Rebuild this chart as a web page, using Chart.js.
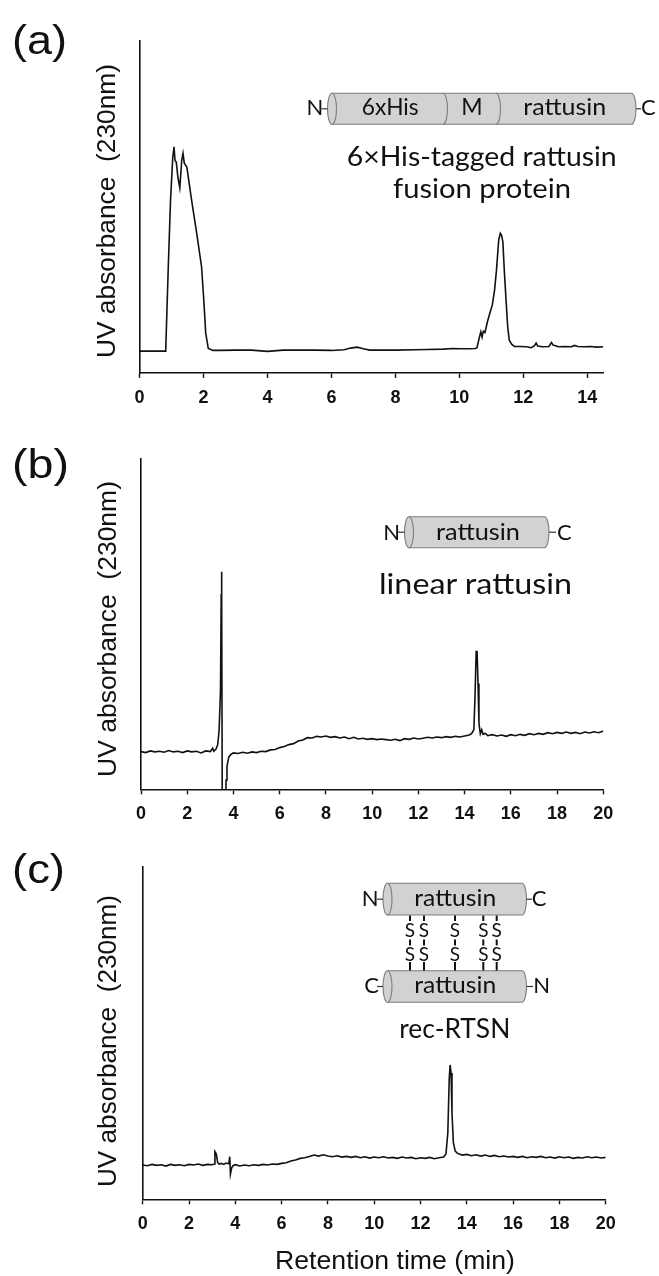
<!DOCTYPE html>
<html><head><meta charset="utf-8">
<script src="https://cdn.jsdelivr.net/npm/chart.js@4.4.1/dist/chart.umd.min.js"></script>
<style>
html,body{margin:0;padding:0;background:#fff;}
#wrap{position:relative;width:659px;height:1276px;overflow:hidden;background:#fff;}
canvas{position:absolute;left:0;}
#ov{position:absolute;left:0;top:0;pointer-events:none;}
.ax{font-family:"Liberation Sans",Arial,sans-serif;fill:#111;white-space:pre;}
.dg{font-family:Lato,"Open Sans",sans-serif;fill:#111;}
</style></head><body>
<div id="wrap">
<canvas id="ca" width="659" height="420" style="top:0px"></canvas>
<canvas id="cb" width="659" height="400" style="top:420px"></canvas>
<canvas id="cc" width="659" height="456" style="top:820px"></canvas>
<svg id="ov" width="659" height="1276" xmlns="http://www.w3.org/2000/svg">
<g id="shapes"></g>
<!-- panel letters -->
<text class="ax" x="12" y="54" font-size="40" textLength="55" lengthAdjust="spacingAndGlyphs">(a)</text>
<text class="ax" x="12" y="478" font-size="41" textLength="57" lengthAdjust="spacingAndGlyphs">(b)</text>
<text class="ax" x="12" y="883" font-size="40" textLength="53" lengthAdjust="spacingAndGlyphs">(c)</text>
<!-- y titles -->
<text class="ax" font-size="26" text-anchor="middle" dominant-baseline="central" transform="translate(106,211) rotate(-90)" textLength="294" lengthAdjust="spacingAndGlyphs">UV absorbance  (230nm)</text>
<text class="ax" font-size="26" text-anchor="middle" dominant-baseline="central" transform="translate(106.5,629) rotate(-90)" textLength="296" lengthAdjust="spacingAndGlyphs">UV absorbance  (230nm)</text>
<text class="ax" font-size="26" text-anchor="middle" dominant-baseline="central" transform="translate(106.5,1041) rotate(-90)" textLength="292" lengthAdjust="spacingAndGlyphs">UV absorbance  (230nm)</text>
<!-- x title -->
<text class="ax" font-size="26" x="275" y="1269" textLength="240" lengthAdjust="spacingAndGlyphs">Retention time (min)</text>
<!-- diagram (a) -->
<text class="dg" font-size="22" x="306.5" y="115">N</text>
<text class="dg" font-size="23" x="361.7" y="115" textLength="57" lengthAdjust="spacingAndGlyphs">6xHis</text>
<text class="dg" font-size="23" x="472" y="115" text-anchor="middle">M</text>
<text class="dg" font-size="23" x="523.3" y="115" textLength="83" lengthAdjust="spacingAndGlyphs">rattusin</text>
<text class="dg" font-size="22" x="641" y="115">C</text>
<text class="dg" font-size="26" x="346.7" y="165.5" textLength="270" lengthAdjust="spacingAndGlyphs">6×His-tagged rattusin</text>
<text class="dg" font-size="26" x="393" y="197.5" textLength="178" lengthAdjust="spacingAndGlyphs">fusion protein</text>
<!-- diagram (b) -->
<text class="dg" font-size="22" x="383.3" y="540">N</text>
<text class="dg" font-size="23" x="436" y="539.5" textLength="84" lengthAdjust="spacingAndGlyphs">rattusin</text>
<text class="dg" font-size="22" x="557" y="540">C</text>
<text class="dg" font-size="29" x="379" y="593.5" textLength="193" lengthAdjust="spacingAndGlyphs">linear rattusin</text>
<!-- diagram (c) -->
<text class="dg" font-size="22" x="361.7" y="906">N</text>
<text class="dg" font-size="23" x="414.3" y="906" textLength="82" lengthAdjust="spacingAndGlyphs">rattusin</text>
<text class="dg" font-size="22" x="531.7" y="906">C</text>
<text class="dg" font-size="22" x="364.3" y="992.7">C</text>
<text class="dg" font-size="23" x="414.3" y="992.7" textLength="82" lengthAdjust="spacingAndGlyphs">rattusin</text>
<text class="dg" font-size="22" x="533.3" y="992.7">N</text>
<g id="sulfur"></g>
<text class="dg" font-size="26" x="399.3" y="1038.3" textLength="111" lengthAdjust="spacingAndGlyphs">rec-RTSN</text>
</svg>
</div>
<script>
// ---------------- data ----------------
const timeA = [0,0.5,0.8,0.82,0.9,0.97,1.04,1.08,1.11,1.15,1.2,1.26,1.32,1.36,1.4,1.48,1.63,1.79,1.94,2.01,2.07,2.15,2.3,2.5,3,3.5,4,4.5,5,5.5,6,6.4,6.6,6.8,7.0,7.2,8,8.6,9,9.5,9.8,10,10.3,10.5,10.55,10.62,10.67,10.71,10.75,10.8,10.88,10.95,11.03,11.1,11.16,11.23,11.28,11.32,11.36,11.41,11.46,11.51,11.56,11.64,11.72,11.9,12.1,12.25,12.35,12.4,12.45,12.6,12.8,12.88,12.93,13.1,13.3,13.5,13.6,13.7,13.9,14.1,14.3,14.5];
const absA  = [6.6,6.6,6.6,7,32,52,65,68.1,64,63.5,59,55.8,64,66.2,63.2,62,52,42,32,22,12,7.4,6.8,6.8,6.9,6.9,6.5,6.9,6.9,6.9,6.8,7.0,7.5,7.8,7.3,6.9,6.9,7.0,7.1,7.2,7.4,7.3,7.3,7.4,7.6,10.5,12.4,10.8,12.6,12.2,15.5,17.9,20.5,24.9,31,40,42.1,41.5,39.5,30,21.9,14,9.9,8.6,8.0,8.0,7.9,7.6,8.2,9.0,8.1,7.9,8.0,9.2,8.4,7.9,8.0,7.9,8.3,8.0,7.9,8.0,7.8,7.9];

const timeB = [0,0.2,0.4,0.6,0.8,1.0,1.2,1.4,1.6,1.8,2.0,2.2,2.4,2.6,2.8,3.0,3.1,3.15,3.25,3.32,3.38,3.44,3.47,3.48,3.5,3.52,3.64,3.68,3.72,3.8,3.9,4.0,4.2,4.4,4.6,4.8,5.0,5.2,5.4,5.6,5.8,6.0,6.2,6.4,6.6,6.8,7.0,7.2,7.4,7.6,7.8,8.0,8.2,8.4,8.6,8.8,9.0,9.2,9.4,9.6,9.8,10.0,10.2,10.4,10.6,10.8,11.0,11.2,11.4,11.6,11.8,12.0,12.2,12.4,12.6,12.8,13.0,13.2,13.4,13.6,13.8,14.0,14.2,14.3,14.4,14.45,14.5,14.54,14.58,14.62,14.68,14.74,14.8,14.9,15.0,15.2,15.4,15.6,15.8,16.0,16.2,16.4,16.6,16.8,17.0,17.2,17.4,17.6,17.8,18.0,18.2,18.4,18.6,18.8,19.0,19.2,19.4,19.6,19.8,20.0];
const absB  = [11.4,11.1,11.6,11.3,11.5,11.2,11.7,11.3,11.5,11.1,11.6,11.3,11.5,11.0,11.6,11.4,12.4,11.5,12.2,13.5,18,30,59,65.7,58,-15,-15,2.8,7,9.8,10.6,11.0,10.8,11.2,10.9,11.3,11.1,11.5,11.4,11.9,12.0,12.6,12.9,13.5,13.8,14.6,14.9,15.6,15.5,16.0,15.8,16.1,15.7,15.9,15.5,15.8,15.3,15.7,15.2,15.4,15.1,15.3,15.0,15.2,15.0,14.8,15.1,14.7,15.3,15.1,15.5,15.2,15.4,15.7,15.5,15.8,15.6,15.9,15.7,16.0,15.8,16.1,16.4,16.8,18,28,41.6,41.6,32,20,16.8,18.0,16.6,16.9,16.2,16.5,16.1,16.4,16.0,16.5,16.2,16.6,16.3,16.8,16.5,16.9,16.6,17.1,16.8,17.2,16.9,17.3,16.9,17.2,16.8,17.3,17.0,17.4,17.1,17.6];

const timeC = [0,0.2,0.4,0.6,0.8,1.0,1.2,1.4,1.6,1.8,2.0,2.2,2.4,2.6,2.8,3.0,3.1,3.12,3.18,3.24,3.3,3.4,3.5,3.6,3.72,3.76,3.79,3.84,3.9,4.0,4.2,4.4,4.6,4.8,5.0,5.2,5.4,5.6,5.8,6.0,6.2,6.4,6.6,6.8,7.0,7.2,7.4,7.6,7.8,8.0,8.2,8.4,8.6,8.8,9.0,9.2,9.4,9.6,9.8,10.0,10.2,10.4,10.6,10.8,11.0,11.2,11.4,11.6,11.8,12.0,12.2,12.4,12.6,12.8,13.0,13.1,13.18,13.24,13.28,13.32,13.36,13.42,13.5,13.6,13.8,14.0,14.2,14.4,14.6,14.8,15.0,15.2,15.4,15.6,15.8,16.0,16.2,16.4,16.6,16.8,17.0,17.2,17.4,17.6,17.8,18.0,18.2,18.4,18.6,18.8,19.0,19.2,19.4,19.6,19.8,20.0];
const absC  = [10.3,10.1,10.5,10.2,10.4,10.0,10.5,10.2,10.4,10.1,10.5,10.3,10.6,10.2,10.5,10.4,10.6,14.3,13.6,11.0,10.6,10.8,10.5,10.9,10.7,12.8,7.6,9.4,10.1,10.4,10.0,10.3,10.1,10.4,10.2,10.5,10.3,10.6,10.5,10.8,11.0,11.5,11.8,12.3,12.5,12.9,13.3,13.0,13.4,13.0,12.8,13.1,12.7,12.9,12.6,12.9,12.5,12.8,12.4,12.7,12.5,12.8,12.4,12.6,12.3,12.7,12.4,12.6,12.2,12.5,12.3,12.6,12.2,12.5,12.7,13.6,20,36,40.4,38,26,17,14.5,13.8,13.3,13.5,13.1,13.4,13.0,13.3,12.9,13.2,12.8,13.0,12.7,12.9,12.6,12.9,12.5,12.8,12.6,12.9,12.5,12.7,12.4,12.8,12.5,12.7,12.3,12.6,12.4,12.8,12.5,12.7,12.4,12.6];

const xMaxA = 14.5, xMaxB = 20, xMaxC = 20;
const xStep = 2;
const yMax = 100;

// ---------------- charts ----------------
const TICK_FONT = {family: '"Liberation Sans", Arial, sans-serif', size: 18, weight: 'bold'};
Chart.defaults.font.family = TICK_FONT.family;
Chart.defaults.font.size = TICK_FONT.size;
Chart.defaults.font.weight = TICK_FONT.weight;
Chart.defaults.color = '#111';

function makePanel(id, times, vals, xMax, box) {
  const pts = times.map((t, i) => ({x: t, y: vals[i]}));
  return new Chart(document.getElementById(id), {
    type: 'line',
    data: {datasets: [{data: pts, borderColor: '#111', borderWidth: 1.6, pointRadius: 0, tension: 0, fill: false}]},
    options: {
      responsive: false, animation: false, events: [],
      layout: {padding: {top: box.top, right: 659 - box.right, left: 0, bottom: 0}},
      plugins: {legend: {display: false}, tooltip: {enabled: false}},
      scales: {
        x: {
          type: 'linear', min: 0, max: xMax,
          ticks: {stepSize: xStep, includeBounds: false, padding: 9, color: '#111', maxRotation: 0, autoSkip: false,
                  font: TICK_FONT},
          grid: {display: true, drawOnChartArea: false, drawTicks: true, tickLength: 5, color: '#111', tickWidth: 1.4},
          border: {display: true, color: '#111', width: 1.6},
          afterFit(s) { s.height = box.h - box.bottom; }
        },
        y: {
          type: 'linear', min: 0, max: yMax,
          ticks: {display: false},
          grid: {display: false},
          border: {display: true, color: '#111', width: 1.6},
          afterFit(s) { s.width = box.left; }
        }
      }
    }
  });
}
makePanel('ca', timeA, absA, xMaxA, {left: 139.5, right: 603.3, top: 41, bottom: 373, h: 420});
makePanel('cb', timeB, absB, xMaxB, {left: 141, right: 603.3, top: 38.3, bottom: 369.3, h: 400});
makePanel('cc', timeC, absC, xMaxC, {left: 142.7, right: 605.7, top: 46.7, bottom: 379.3, h: 456});

// ---------------- diagram shapes ----------------
const FILL = '#d2d2d2', STROKE = '#7c7c7c';
function cyl(x1, x2, yT, h, dividers) {
  const yB = yT + h, ry = h / 2, cy = yT + ry, rx = 4.5;
  let s = `<path d="M${x1},${yT} L${x2},${yT} A${rx},${ry} 0 0 1 ${x2},${yB} L${x1},${yB} Z" fill="${FILL}" stroke="${STROKE}" stroke-width="1.1"/>`;
  s += `<ellipse cx="${x1}" cy="${cy}" rx="${rx}" ry="${ry}" fill="${FILL}" stroke="${STROKE}" stroke-width="1.1"/>`;
  (dividers || []).forEach(d => {
    s += `<path d="M${d},${yT} A${rx},${ry} 0 0 1 ${d},${yB}" fill="none" stroke="${STROKE}" stroke-width="1.1"/>`;
  });
  return s;
}
function dash(xa, xb, y) {
  return `<line x1="${xa}" y1="${y}" x2="${xb}" y2="${y}" stroke="#333" stroke-width="1.2"/>`;
}
let sh = '';
sh += cyl(332, 631.5, 93.3, 31, [443, 496]);
sh += dash(321.5, 327.5, 108.8) + dash(636, 641, 108.8);
sh += cyl(409, 544.5, 516.7, 31, []);
sh += dash(398, 404.5, 532.2) + dash(549, 556, 532.2);
sh += cyl(387.5, 522, 883.3, 31.7, []);
sh += dash(377, 383, 899.2) + dash(526.5, 532, 899.2);
sh += cyl(387.5, 522, 970.7, 31.6, []);
sh += dash(377, 383, 986.5) + dash(526.5, 533, 986.5);
document.getElementById('shapes').innerHTML = sh;

const ssX = [410, 424, 455, 483.3, 496.7];
let ss = '';
ssX.forEach(x => {
  [[915.5, 921], [939.5, 945.5], [962, 970.5]].forEach(([a, b]) => {
    ss += `<line x1="${x}" y1="${a}" x2="${x}" y2="${b}" stroke="#111" stroke-width="2"/>`;
  });
  ss += `<text class="dg" font-size="19" x="${x}" y="937" text-anchor="middle">S</text>`;
  ss += `<text class="dg" font-size="19" x="${x}" y="960.5" text-anchor="middle">S</text>`;
});
document.getElementById('sulfur').innerHTML = ss;
</script>
</body></html>
